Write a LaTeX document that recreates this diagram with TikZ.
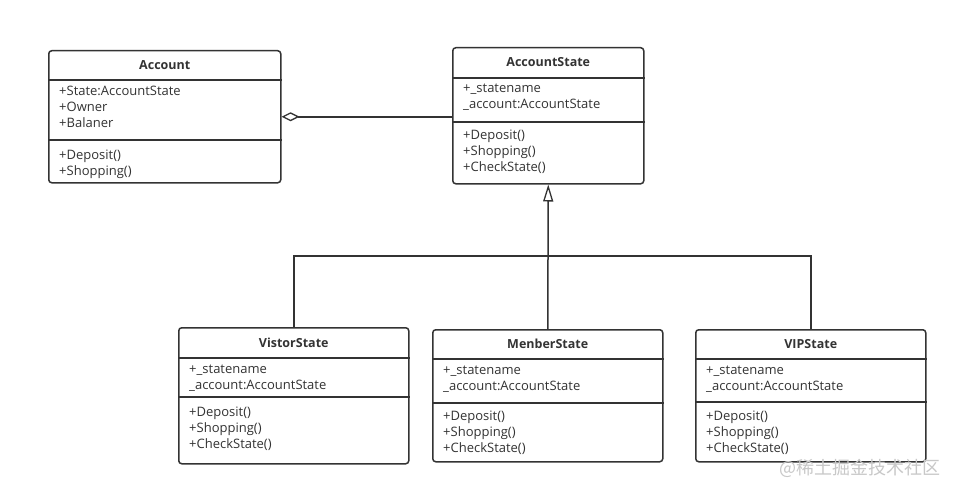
\documentclass[tikz,border=0pt]{standalone}
\usepackage{fontspec}
\setmainfont{Open Sans}
\newfontfamily\cjkfont{Noto Sans CJK SC}
\usetikzlibrary{arrows.meta,calc}
\definecolor{ink}{HTML}{333333}
\definecolor{wm}{HTML}{C8C8C8}
\tikzset{
  x=1pt,y=-1pt,
  classbox/.style={draw=ink,line width=1.5pt,rounded corners=3pt,fill=white,inner sep=0pt,anchor=north west},
  divline/.style={draw=ink,line width=1.5pt},
  cltitle/.style={text=ink,font=\bfseries\fontsize{12.5}{14}\selectfont,inner sep=0pt},
  clline/.style={text=ink,font=\fontsize{13}{15}\selectfont,inner sep=0pt,anchor=base west},
  conn/.style={draw=ink,line width=1.5pt},
  agg/.style={conn,{Diamond[open,length=18pt,width=9pt,line width=1.3pt]}-},
  inh/.style={conn,-{Triangle[open,length=17pt,width=10pt,line width=1.3pt]}},
}
% name, x, y, w, h, d1, d2, title
\newcommand\umlclass[8]{%
  \node[classbox,minimum width=#4pt,minimum height=#5pt] (#1) at (#2,#3) {};
  \draw[divline] ($(#1.north west)+(0,#6)$) -- ($(#1.north east)+(0,#6)$);
  \draw[divline] ($(#1.north west)+(0,#7)$) -- ($(#1.north east)+(0,#7)$);
  \node[cltitle] (#1-title) at ($(#1.north)+(0,#6/2)$) {#8};
}
% name, offset from top, lines
\newcommand\umllines[3]{%
  \foreach \t [count=\i] in {#3}
    \node[clline] (#1-l#2-\i) at ($(#1.north west)+(11,#2+16*\i-16)$) {\t};
}
\begin{document}
\begin{tikzpicture}
\useasboundingbox (0,0) rectangle (957,495);
\fill[white] (0,0) rectangle (957,495);

\umlclass{acc}{48}{50}{232}{132}{30}{90}{Account}
\umllines{acc}{45}{+State:AccountState,+Owner,+Balaner}
\umllines{acc}{109}{+Deposit(),+Shopping()}

\umlclass{accst}{452}{47}{191}{136}{31}{75}{AccountState}
\umllines{accst}{45}{+\_statename,\_account:AccountState}
\umllines{accst}{92}{+Deposit(),+Shopping(),+CheckState()}

\umlclass{vis}{178}{327}{230}{136}{31}{70}{VistorState}
\umllines{vis}{46}{+\_statename,\_account:AccountState}
\umllines{vis}{89}{+Deposit(),+Shopping(),+CheckState()}

\umlclass{mem}{432}{329}{230}{132}{30}{74}{MenberState}
\umllines{mem}{45}{+\_statename,\_account:AccountState}
\umllines{mem}{91}{+Deposit(),+Shopping(),+CheckState()}

\umlclass{vip}{695}{329}{230}{132}{30}{73}{VIPState}
\umllines{vip}{45}{+\_statename,\_account:AccountState}
\umllines{vip}{91}{+Deposit(),+Shopping(),+CheckState()}

% aggregation
\draw[agg] (acc.east) -- (acc.east -| accst.west);

% generalization
\coordinate (junc) at ($(mem.north)+(0,-73)$);
\draw[conn] (vis.north) |- (junc);
\draw[conn] (vip.north) |- (junc);
\draw[inh] (mem.north) -- (accst.south);

% watermark
\node[text=wm,font=\cjkfont\fontsize{18}{20}\selectfont,anchor=east,inner sep=0pt] (wmark) at (941,468) {@稀土掘金技术社区};
\end{tikzpicture}
\end{document}
